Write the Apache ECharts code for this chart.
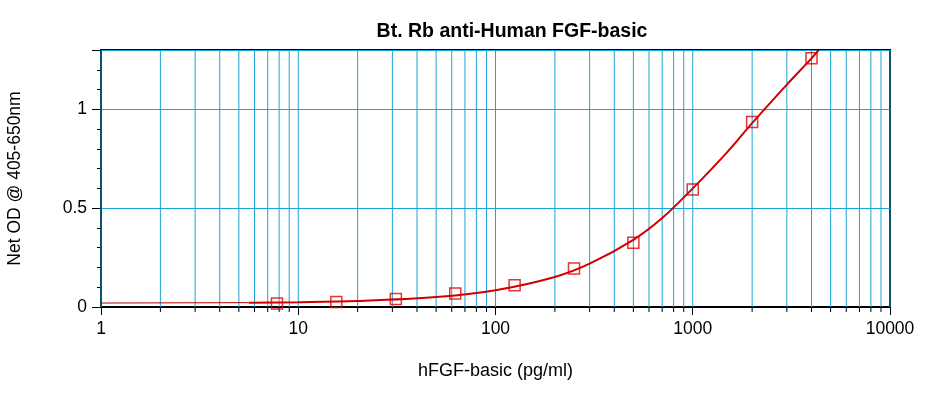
<!DOCTYPE html>
<html>
<head>
<meta charset="utf-8">
<script src="https://cdn.jsdelivr.net/npm/echarts@6/dist/echarts.min.js"></script>
<style>
  html, body { margin: 0; padding: 0; background: #fff; }
  #chart { width: 952px; height: 406px; }
</style>
</head>
<body>
<div id="chart"></div>
<script>
// standard concentrations and measured OD
var concentrations = [7.8, 15.6, 31.25, 62.5, 125, 250, 500, 1000, 2000, 4000];
var odValues = [0.018, 0.025, 0.04, 0.068, 0.11, 0.195, 0.325, 0.594, 0.936, 1.258];

// fitted curve
var curveX = [5.6, 10, 20, 50, 100, 200, 300, 500, 700, 1000, 1500, 2000, 3000, 4000, 4350];
var curveY = [0.022, 0.024, 0.03, 0.05, 0.085, 0.152, 0.219, 0.34, 0.45, 0.6, 0.785, 0.93, 1.125, 1.258, 1.3];
// thin extension towards 1
var extX = [1, 5.6];
var extY = [0.02, 0.022];

// vertical grid lines at 1..9 of each decade
var gridX = [];
[1, 10, 100, 1000].forEach(function(d){
    for (var k = 1; k <= 9; k++) gridX.push(k * d);
});
gridX.push(10000);
var majorX = [1, 10, 100, 1000, 10000];

function pairs(xs, ys){
    return xs.map(function(x, i){ return [x, ys[i]]; });
}

var myChart = echarts.init(document.getElementById('chart'));

var option = {
    animation: false,
    title: {
        text: 'Bt. Rb anti-Human FGF-basic',
        left: 507,
        top: 17,
        textAlign: 'center',
        textStyle: { fontFamily: 'Liberation Sans', fontSize: 19.5, fontWeight: 'bold', color: '#000' }
    },
    grid: {
        left: 101, right: 62, top: 50, bottom: 99,
        outerBoundsMode: 'none',
        containLabel: false,
        show: true, borderColor: '#000', borderWidth: 2
    },
    xAxis: {
        type: 'log',
        min: 1, max: 10000,
        logBase: 10,
        name: 'hFGF-basic (pg/ml)',
        nameLocation: 'middle',
        nameGap: 55,
        nameTextStyle: { fontFamily: 'Liberation Sans', fontSize: 18, color: '#000' },
        axisLine: { show: true, lineStyle: { color: '#000', width: 2 } },
        axisTick: { show: true, length: 8, lineStyle: { color: '#000' } },
        axisLabel: { fontFamily: 'Liberation Sans', fontSize: 17.5, color: '#000', margin: 13,
            formatter: function(v){ return String(Math.round(v)); } },
        splitLine: { show: false }
    },
    yAxis: {
        type: 'value',
        min: 0, max: 1.3,
        interval: 0.5,
        name: 'Net OD @ 405-650nm',
        nameLocation: 'middle',
        nameGap: 77,
        nameTextStyle: { fontFamily: 'Liberation Sans', fontSize: 17.5, color: '#000' },
        axisLine: { show: true, lineStyle: { color: '#000', width: 2 } },
        axisTick: { show: true, length: 9, lineStyle: { color: '#000' } },
        minorTick: { show: true, splitNumber: 5, length: 4, lineStyle: { color: '#000' } },
        axisLabel: { fontFamily: 'Liberation Sans', fontSize: 17.5, color: '#000', margin: 14,
            formatter: function(v){ return v > 1.25 ? '' : String(v); } },
        splitLine: { show: true, lineStyle: { color: '#1aa3d6', width: 1 } }
    },
    series: [
        {
            // vertical grid lines
            type: 'custom',
            silent: true,
            z: 1,
            data: gridX.map(function(x){ return [x]; }),
            renderItem: function(params, api){
                var top = api.coord([api.value(0), 1.3]);
                var bot = api.coord([api.value(0), 0]);
                return { type: 'line', shape: { x1: top[0], y1: top[1], x2: bot[0], y2: bot[1] },
                    style: { stroke: '#1aa3d6', lineWidth: 1 } };
            }
        },
        {
            // minor ticks under the x axis
            type: 'custom',
            silent: true,
            clip: false,
            z: 3,
            data: gridX.filter(function(x){ return majorX.indexOf(x) < 0; }).map(function(x){ return [x]; }),
            renderItem: function(params, api){
                var p = api.coord([api.value(0), 0]);
                return { type: 'line', shape: { x1: p[0], y1: p[1], x2: p[0], y2: p[1] + 5 },
                    style: { stroke: '#000', lineWidth: 1 } };
            }
        },
        {
            type: 'line',
            data: pairs(extX, extY),
            symbol: 'none',
            z: 4,
            lineStyle: { color: '#b00000', width: 1 }
        },
        {
            type: 'line',
            data: pairs(curveX, curveY),
            smooth: 0.35,
            symbol: 'none',
            z: 4,
            lineStyle: { color: '#d00000', width: 2 }
        },
        {
            type: 'scatter',
            data: pairs(concentrations, odValues),
            symbol: 'rect',
            symbolSize: 11,
            z: 5,
            itemStyle: { color: 'rgba(255,255,255,0)', borderColor: '#e00000', borderWidth: 1.5 }
        }
    ]
};
myChart.setOption(option);
</script>
</body>
</html>
